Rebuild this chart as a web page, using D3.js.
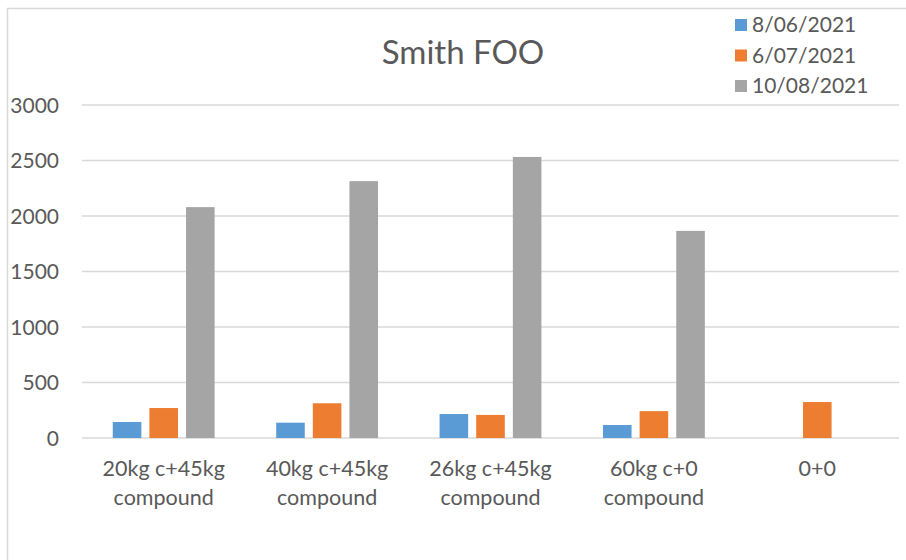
<!DOCTYPE html>
<html>
<head>
<meta charset="utf-8">
<script src="https://cdn.jsdelivr.net/npm/d3@7"></script>
<style>
  html, body { margin: 0; padding: 0; background: #fff; }
  svg { display: block; }
  text { font-family: Lato, "Open Sans", sans-serif; fill: #595959; }
</style>
</head>
<body>
<svg id="chart" width="906" height="560"></svg>
<script>
const title = "Smith FOO";
const categories = [
  ["20kg c+45kg", "compound"],
  ["40kg c+45kg", "compound"],
  ["26kg c+45kg", "compound"],
  ["60kg c+0", "compound"],
  ["0+0"]
];
const seriesNames = ["8/06/2021", "6/07/2021", "10/08/2021"];
const seriesColors = ["#5b9bd5", "#ed7d31", "#a5a5a5"];
const s1 = [144, 138, 216, 117, null];
const s2 = [270, 313, 208, 242, 324];
const s3 = [2080, 2314, 2532, 1866, null];
const seriesValues = [s1, s2, s3];
const yTicks = [0, 500, 1000, 1500, 2000, 2500, 3000];

const svg = d3.select("#chart");

// chart border
svg.append("rect")
  .attr("x", 7.5).attr("y", 8.5)
  .attr("width", 930).attr("height", 600)
  .attr("fill", "none").attr("stroke", "#d9d9d9").attr("stroke-width", 1.5);

const plot = { left: 82, right: 899, top: 105, bottom: 438 };

const x0 = d3.scaleBand()
  .domain(d3.range(categories.length))
  .range([plot.left, plot.right])
  .padding(0);

const x1 = d3.scaleBand()
  .domain(d3.range(seriesNames.length))
  .range([0, x0.bandwidth()])
  .paddingInner(0.22)
  .paddingOuter(0.84);

const y = d3.scaleLinear().domain([0, 3000]).range([plot.bottom, plot.top]);

// gridlines
svg.append("g").selectAll("line").data(yTicks).join("line")
  .attr("x1", plot.left).attr("x2", plot.right)
  .attr("y1", d => y(d)).attr("y2", d => y(d))
  .attr("stroke", "#d9d9d9").attr("stroke-width", 1.5);

// y axis labels
const yAxis = d3.axisLeft(y).tickValues(yTicks).tickSize(0).tickPadding(0).tickFormat(d3.format("d"));
const ga = svg.append("g").attr("transform", `translate(${plot.left - 23},0)`).call(yAxis);
ga.select(".domain").remove();
ga.selectAll("text")
  .attr("font-size", 21)
  .attr("font-family", "Lato, sans-serif")
  .attr("fill", "#595959")
  .attr("dy", "0.35em");

// bars
seriesValues.forEach((vals, si) => {
  svg.append("g").selectAll("rect")
    .data(vals.map((v, i) => ({ v, i })).filter(d => d.v != null))
    .join("rect")
    .attr("x", d => x0(d.i) + x1(si))
    .attr("width", x1.bandwidth())
    .attr("y", d => y(d.v))
    .attr("height", d => y(0) - y(d.v))
    .attr("fill", seriesColors[si]);
});

// category labels
const cat = svg.append("g");
categories.forEach((lines, i) => {
  const t = cat.append("text")
    .attr("x", x0(i) + x0.bandwidth() / 2)
    .attr("y", 476)
    .attr("text-anchor", "middle")
    .attr("font-size", 21.5);
  lines.forEach((l, li) => {
    t.append("tspan")
      .attr("x", x0(i) + x0.bandwidth() / 2)
      .attr("y", 476 + li * 29)
      .text(l);
  });
});

// title
svg.append("text")
  .attr("x", 463).attr("y", 64)
  .attr("text-anchor", "middle")
  .attr("font-size", 33)
  .text(title);

// legend
const leg = svg.append("g");
seriesNames.forEach((n, i) => {
  const cy = 25 + i * 30.5;
  leg.append("rect")
    .attr("x", 735).attr("y", cy - 6)
    .attr("width", 12).attr("height", 12)
    .attr("fill", seriesColors[i]);
  leg.append("text")
    .attr("x", 752).attr("y", cy)
    .attr("dy", "0.35em")
    .attr("font-size", 21)
    .text(n);
});
</script>
</body>
</html>
